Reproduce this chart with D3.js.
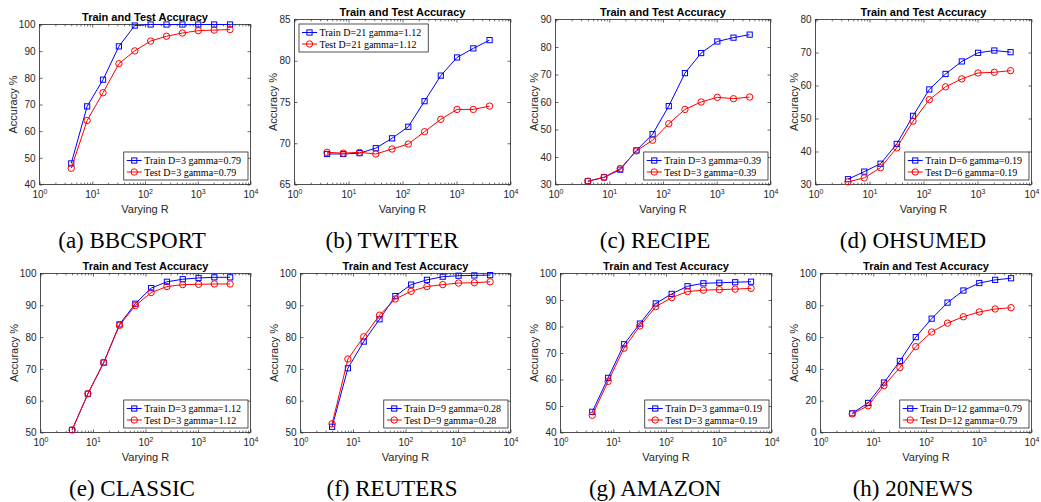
<!DOCTYPE html>
<html>
<head>
<meta charset="utf-8">
<script src="https://cdn.jsdelivr.net/npm/d3@7"></script>
<style>
  body { margin: 0; background: #fff; }
  svg { display: block; }
</style>
</head>
<body>
<svg id="fig" width="1041" height="502"></svg>
<script>
// values
const rValues = [4, 8, 16, 32, 64, 128, 256, 512, 1024, 2048, 4096];
const xTickValues = [1, 10, 100, 1000, 10000];

const captions = ["(a) BBCSPORT", "(b) TWITTER", "(c) RECIPE", "(d) OHSUMED",
                  "(e) CLASSIC", "(f) REUTERS", "(g) AMAZON", "(h) 20NEWS"];
const trainLabels = ["Train D=3 gamma=0.79", "Train D=21 gamma=1.12", "Train D=3 gamma=0.39", "Train D=6 gamma=0.19",
                     "Train D=3 gamma=1.12", "Train D=9 gamma=0.28", "Train D=3 gamma=0.19", "Train D=12 gamma=0.79"];
const testLabels = ["Test D=3 gamma=0.79", "Test D=21 gamma=1.12", "Test D=3 gamma=0.39", "Test D=6 gamma=0.19",
                    "Test D=3 gamma=1.12", "Test D=9 gamma=0.28", "Test D=3 gamma=0.19", "Test D=12 gamma=0.79"];
const yDomains = [[40, 100], [65, 85], [30, 90], [30, 80], [50, 100], [50, 100], [40, 100], [0, 100]];
const yTickSteps = [10, 5, 10, 10, 10, 10, 10, 20];

const trainBbcsport = [47.9, 69.3, 79.3, 91.8, 99.6, 100, 100, 100, 100, 100, 100];
const testBbcsport  = [46.1, 64.0, 74.4, 85.3, 90.1, 93.8, 95.6, 96.8, 97.7, 97.9, 98.1];
const trainTwitter  = [68.7, 68.7, 68.8, 69.4, 70.6, 72.0, 75.1, 78.2, 80.4, 81.5, 82.5];
const testTwitter   = [68.9, 68.8, 68.9, 68.7, 69.3, 69.9, 71.4, 72.9, 74.1, 74.1, 74.5];
const trainRecipe   = [31.2, 32.6, 35.4, 42.4, 48.3, 58.5, 70.5, 77.8, 82.0, 83.4, 84.5];
const testRecipe    = [31.2, 32.6, 35.8, 42.2, 46.1, 52.1, 57.3, 60.0, 61.7, 61.2, 61.8];
const trainOhsumed  = [31.6, 33.9, 36.3, 42.3, 50.8, 58.8, 63.5, 67.3, 69.9, 70.6, 70.1];
const testOhsumed   = [30.8, 32.0, 35.1, 41.1, 49.2, 55.7, 59.6, 62.0, 63.8, 64.0, 64.5];
const trainClassic  = [50.8, 62.2, 72.0, 84.0, 90.5, 95.4, 97.4, 98.2, 98.6, 98.8, 98.8];
const testClassic   = [50.8, 62.2, 72.0, 83.7, 89.9, 94.0, 95.9, 96.5, 96.6, 96.7, 96.7];
const trainReuters  = [51.8, 70.2, 78.6, 85.6, 92.9, 96.5, 98.0, 99.0, 99.3, 99.4, 99.5];
const testReuters   = [52.7, 73.1, 80.1, 86.9, 92.0, 94.4, 95.9, 96.5, 97.0, 97.1, 97.4];
const trainAmazon   = [47.8, 60.6, 73.3, 81.1, 88.7, 92.3, 95.2, 96.3, 96.5, 96.7, 96.9];
const testAmazon    = [46.5, 59.3, 71.8, 80.2, 87.5, 90.9, 93.2, 93.7, 93.9, 94.1, 94.4];
const trainNews     = [12.1, 18.6, 31.4, 45.0, 60.0, 71.6, 81.7, 89.3, 94.0, 96.0, 97.0];
const testNews      = [11.7, 16.8, 29.5, 40.8, 54.0, 63.2, 68.8, 72.8, 75.8, 77.7, 78.5];

const trainSeries = [trainBbcsport, trainTwitter, trainRecipe, trainOhsumed,
                     trainClassic, trainReuters, trainAmazon, trainNews];
const testSeries = [testBbcsport, testTwitter, testRecipe, testOhsumed,
                    testClassic, testReuters, testAmazon, testNews];

// layout of the 2x4 grid (plot boxes in pixels)
const boxes = [
  { l: 39.5, t: 24.5, r: 250.5, b: 184.5 },
  { l: 294.5, t: 19.5, r: 510.5, b: 184.5 },
  { l: 555.5, t: 19.5, r: 770.5, b: 184.5 },
  { l: 815.5, t: 19.5, r: 1031.5, b: 184.5 },
  { l: 40.5, t: 273.5, r: 250.5, b: 432.5 },
  { l: 300.5, t: 273.5, r: 510.5, b: 432.5 },
  { l: 560.5, t: 273.5, r: 771.5, b: 432.5 },
  { l: 820.5, t: 273.5, r: 1031.5, b: 432.5 }
];
const captionX = [132, 392, 655, 913];
const captionY = [248, 496];
const legendNorthWest = [false, true, false, false, false, false, false, false];

const axisColor = "#262626";
const svg = d3.select("#fig");

function drawPanel(i) {
  const box = boxes[i];
  const g = svg.append("g");
  const x = d3.scaleLog().domain([1, 10000]).range([box.l, box.r]);
  const y = d3.scaleLinear().domain(yDomains[i]).range([box.b, box.t]);
  const yTicks = d3.range(yDomains[i][0], yDomains[i][1] + 0.001, yTickSteps[i]);
  const minorX = x.ticks().filter(v => !xTickValues.includes(v));

  // inward ticks on all four sides, MATLAB style
  const bottom = g.append("g").attr("transform", `translate(0,${box.b})`)
    .call(d3.axisBottom(x).tickValues(xTickValues).tickSize(-3).tickPadding(6.5));
  g.append("g").attr("transform", `translate(0,${box.b})`)
    .call(d3.axisBottom(x).tickValues(minorX).tickSize(-1.8).tickFormat(""));
  g.append("g").attr("transform", `translate(0,${box.t})`)
    .call(d3.axisTop(x).tickValues(xTickValues).tickSize(-3).tickFormat(""));
  g.append("g").attr("transform", `translate(0,${box.t})`)
    .call(d3.axisTop(x).tickValues(minorX).tickSize(-1.8).tickFormat(""));
  g.append("g").attr("transform", `translate(${box.l},0)`)
    .call(d3.axisLeft(y).tickValues(yTicks).tickSize(-3).tickPadding(4));
  g.append("g").attr("transform", `translate(${box.r},0)`)
    .call(d3.axisRight(y).tickValues(yTicks).tickSize(-3).tickFormat(""));

  g.selectAll(".domain").remove();
  g.selectAll(".tick line").attr("stroke", axisColor).attr("stroke-width", 0.7);
  g.selectAll(".tick text").attr("fill", axisColor)
    .attr("font-family", "Liberation Sans, Arial, sans-serif").attr("font-size", 10);

  // 10^k labels
  bottom.selectAll(".tick text").each(function(d) {
    const t = d3.select(this).text(null);
    t.append("tspan").text("10");
    t.append("tspan").attr("dy", -4).attr("font-size", 7).text(Math.round(Math.log10(d)));
  });

  g.append("rect")
    .attr("x", box.l).attr("y", box.t)
    .attr("width", box.r - box.l).attr("height", box.b - box.t)
    .attr("fill", "none").attr("stroke", axisColor).attr("stroke-width", 0.8);

  const cx = (box.l + box.r) / 2;
  g.append("text").attr("x", cx).attr("y", box.t - 3.5)
    .attr("text-anchor", "middle").attr("font-family", "Liberation Sans, Arial, sans-serif")
    .attr("font-weight", "bold").attr("font-size", 11).attr("fill", "#000")
    .text("Train and Test Accuracy");
  g.append("text").attr("x", cx).attr("y", box.b + 28)
    .attr("text-anchor", "middle").attr("font-family", "Liberation Sans, Arial, sans-serif")
    .attr("font-size", 11).attr("fill", axisColor)
    .text("Varying R");
  const wide = yDomains[i][1] >= 100;
  const ly = (box.t + box.b) / 2;
  const lx = box.l - (wide ? 23 : 18);
  g.append("text").attr("transform", `translate(${lx},${ly}) rotate(-90)`)
    .attr("text-anchor", "middle").attr("font-family", "Liberation Sans, Arial, sans-serif")
    .attr("font-size", 11).attr("fill", axisColor)
    .text("Accuracy %");

  // series
  const line = d3.line().x((d, k) => x(rValues[k])).y(d => y(d));
  const drawSeries = (vals, color, shape) => {
    g.append("path").datum(vals).attr("d", line)
      .attr("fill", "none").attr("stroke", color).attr("stroke-width", 1);
    if (shape === "square") {
      g.selectAll(null).data(vals).join("rect")
        .attr("x", (d, k) => x(rValues[k]) - 2.6).attr("y", d => y(d) - 2.6)
        .attr("width", 5.2).attr("height", 5.2)
        .attr("fill", "none").attr("stroke", color).attr("stroke-width", 1);
    } else {
      g.selectAll(null).data(vals).join("circle")
        .attr("cx", (d, k) => x(rValues[k])).attr("cy", d => y(d)).attr("r", 3.2)
        .attr("fill", "none").attr("stroke", color).attr("stroke-width", 1);
    }
  };
  drawSeries(trainSeries[i], "#0000ff", "square");
  drawSeries(testSeries[i], "#ff0000", "circle");

  // legend
  const lg = g.append("g");
  const entries = [
    { label: trainLabels[i], color: "#0000ff", shape: "square" },
    { label: testLabels[i], color: "#ff0000", shape: "circle" }
  ];
  const texts = entries.map(e => lg.append("text")
    .attr("font-family", "Liberation Serif, Times New Roman, serif")
    .attr("font-size", 10).attr("fill", "#000").text(e.label));
  const textW = d3.max(texts, t => t.node().getComputedTextLength());
  const w = 20.5 + textW + 7, h = 28;
  const bx = legendNorthWest[i] ? box.l + 4.5 : box.r - 2.5 - w;
  const by = legendNorthWest[i] ? box.t + 4.5 : box.b - 4.5 - h;
  lg.insert("rect", ":first-child").attr("x", bx).attr("y", by).attr("width", w).attr("height", h)
    .attr("fill", "#fff").attr("stroke", axisColor).attr("stroke-width", 0.8);
  entries.forEach((e, k) => {
    const ry = by + 8.5 + k * 11.5;
    lg.append("line").attr("x1", bx + 3).attr("x2", bx + 18).attr("y1", ry).attr("y2", ry)
      .attr("stroke", e.color).attr("stroke-width", 1);
    if (e.shape === "square") {
      lg.append("rect").attr("x", bx + 10.5 - 2.6).attr("y", ry - 2.6).attr("width", 5.2).attr("height", 5.2)
        .attr("fill", "none").attr("stroke", e.color);
    } else {
      lg.append("circle").attr("cx", bx + 10.5).attr("cy", ry).attr("r", 3.2)
        .attr("fill", "none").attr("stroke", e.color);
    }
    texts[k].attr("x", bx + 20.5).attr("y", ry + 3.5);
  });

  svg.append("text").attr("x", captionX[i % 4]).attr("y", captionY[Math.floor(i / 4)])
    .attr("text-anchor", "middle").attr("font-family", "Liberation Serif, Times New Roman, serif")
    .attr("font-size", 23).attr("fill", "#000")
    .text(captions[i]);
}

d3.range(8).forEach(drawPanel);
</script>
</body>
</html>
